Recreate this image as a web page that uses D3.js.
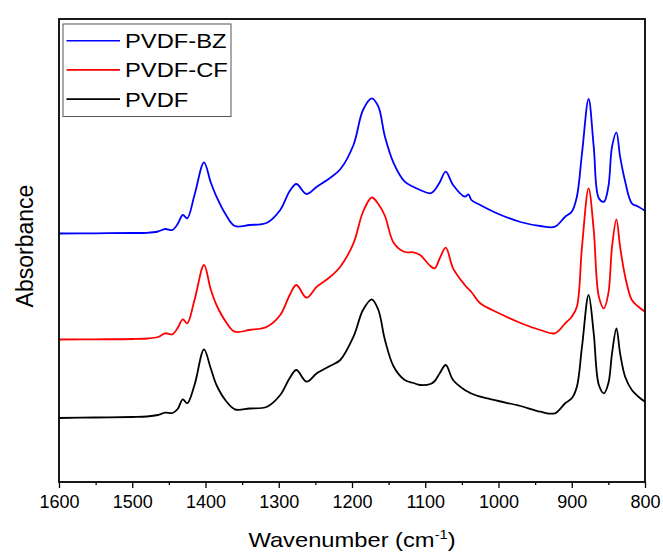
<!DOCTYPE html>
<html>
<head>
<meta charset="utf-8">
<script src="https://cdn.jsdelivr.net/npm/d3@7"></script>
<style>
  body { margin: 0; background: #fff; }
  text { font-family: "Liberation Sans", Arial, sans-serif; }
</style>
</head>
<body>
<svg width="663" height="552"></svg>
<script>
// wavenumber grid (cm-1)
const wavenumbers = [1600,1550,1500,1480,1465,1455,1445,1438,1431,1425,1415,1402,1393,1385,1372,1360,1340,1316,1298,1285,1276,1262,1248,1230,1216,1198,1185,1173,1164,1155,1143,1128,1116,1107,1093,1087,1080,1072,1062,1046,1041,1037,1025,1000,970,943,923,909,900,893,886,877,870,863,856,850,845,839,834,827,818,809,800];

// absorbance (a.u., stacked offsets as in the figure)
const pvdf = [0.64,0.645,0.65,0.655,0.67,0.693,0.69,0.73,0.827,0.787,0.97,1.327,1.14,0.97,0.81,0.727,0.735,0.753,0.87,1.04,1.12,1.003,1.087,1.16,1.22,1.453,1.72,1.827,1.72,1.42,1.153,1.02,0.99,0.97,0.98,1.01,1.09,1.17,1.02,0.92,0.90,0.885,0.853,0.81,0.76,0.703,0.687,0.787,0.837,0.953,1.353,1.87,1.487,0.97,0.887,0.987,1.287,1.537,1.287,1.05,0.92,0.853,0.803];
const pvdfCF = [1.425,1.427,1.43,1.435,1.45,1.487,1.477,1.54,1.627,1.587,1.82,2.17,1.93,1.77,1.60,1.503,1.52,1.553,1.67,1.87,1.97,1.843,1.953,2.05,2.153,2.387,2.70,2.845,2.78,2.66,2.39,2.30,2.297,2.27,2.16,2.137,2.24,2.343,2.137,1.97,1.93,1.90,1.787,1.69,1.59,1.52,1.487,1.587,1.653,1.753,2.353,2.937,2.52,1.853,1.737,1.887,2.353,2.627,2.353,2.053,1.82,1.753,1.703];
const pvdfBZ = [2.485,2.487,2.49,2.492,2.505,2.53,2.52,2.58,2.67,2.637,2.87,3.197,3.00,2.853,2.67,2.56,2.57,2.593,2.72,2.91,2.98,2.88,2.953,3.04,3.127,3.37,3.72,3.837,3.753,3.453,3.187,3.003,2.95,2.92,2.887,2.92,3.00,3.103,2.97,2.853,2.877,2.82,2.77,2.68,2.60,2.56,2.553,2.653,2.703,2.853,3.287,3.83,3.353,2.837,2.803,2.953,3.353,3.497,3.253,3.003,2.787,2.753,2.713];

const seriesNames = ["PVDF-BZ", "PVDF-CF", "PVDF"];
const seriesColors = ["#0000ff", "#ff0000", "#000000"];
const xTicks = [1600,1500,1400,1300,1200,1100,1000,900,800];

const margin = {top: 19, right: 18, bottom: 70, left: 59};
const w = 663, h = 552;
const innerW = w - margin.left - margin.right;
const innerH = h - margin.top - margin.bottom;

const svg = d3.select("svg");
const g = svg.append("g").attr("transform", `translate(${margin.left},${margin.top})`);

const x = d3.scaleLinear().domain([1600, 800]).range([0, innerW]);
const y = d3.scaleLinear().domain([0, 4.63]).range([innerH, 0]);

const line = d3.line()
  .x((d, i) => x(wavenumbers[i]))
  .y(d => y(d))
  .curve(d3.curveCatmullRom.alpha(0.5));

[pvdfBZ, pvdfCF, pvdf].forEach(function(vals, k) {
  g.append("path")
    .attr("d", line(vals))
    .attr("fill", "none")
    .attr("stroke", seriesColors[k])
    .attr("stroke-width", 1.8);
});

// minor ticks every 50
const xAxisMinor = d3.axisBottom(x).tickValues(d3.range(1550, 800, -100)).tickSize(3).tickFormat("");
g.append("g").attr("transform", `translate(0,${innerH})`).call(xAxisMinor)
  .call(a => a.select(".domain").remove())
  .selectAll("line").attr("stroke-width", 1.3);

const xAxis = d3.axisBottom(x).tickValues(xTicks).tickSize(6).tickPadding(7).tickFormat(d3.format("d"));
const gx = g.append("g").attr("transform", `translate(0,${innerH})`).call(xAxis);
gx.select(".domain").remove();
gx.selectAll("line").attr("stroke-width", 1.3);
gx.selectAll("text").attr("font-size", 18).attr("fill", "#000")
  .style("font-family", "'Liberation Sans', Arial, sans-serif");

// frame
g.append("rect")
  .attr("width", innerW).attr("height", innerH)
  .attr("fill", "none").attr("stroke", "#000").attr("stroke-width", 1.8);

// axis titles (source font is a bit wider than Arial, hence the x stretch)
const xt = svg.append("text")
  .attr("transform", `translate(352,547) scale(1.13,1)`)
  .attr("text-anchor", "middle").attr("font-size", 21);
xt.append("tspan").text("Wavenumber (cm");
xt.append("tspan").attr("dy", -8).attr("font-size", 13).text("-1");
xt.append("tspan").attr("dy", 8).text(")");

svg.append("text")
  .attr("transform", `translate(33,246) rotate(-90)`)
  .attr("text-anchor", "middle").attr("font-size", 23)
  .text("Absorbance");

// legend
const lg = g.append("g").attr("transform", "translate(4,5)");
lg.append("rect").attr("width", 168).attr("height", 92.5)
  .attr("fill", "#fff").attr("stroke", "#555").attr("stroke-width", 1);
seriesNames.forEach(function(name, i) {
  const yy = 16.7 + i * 29.2;
  lg.append("line").attr("x1", 3.5).attr("x2", 57).attr("y1", yy).attr("y2", yy)
    .attr("stroke", seriesColors[i]).attr("stroke-width", 1.6);
  lg.append("text")
    .attr("transform", `translate(62,${yy}) scale(1.13,1)`)
    .attr("dy", "0.36em")
    .attr("font-size", 21).text(name);
});
</script>
</body>
</html>
